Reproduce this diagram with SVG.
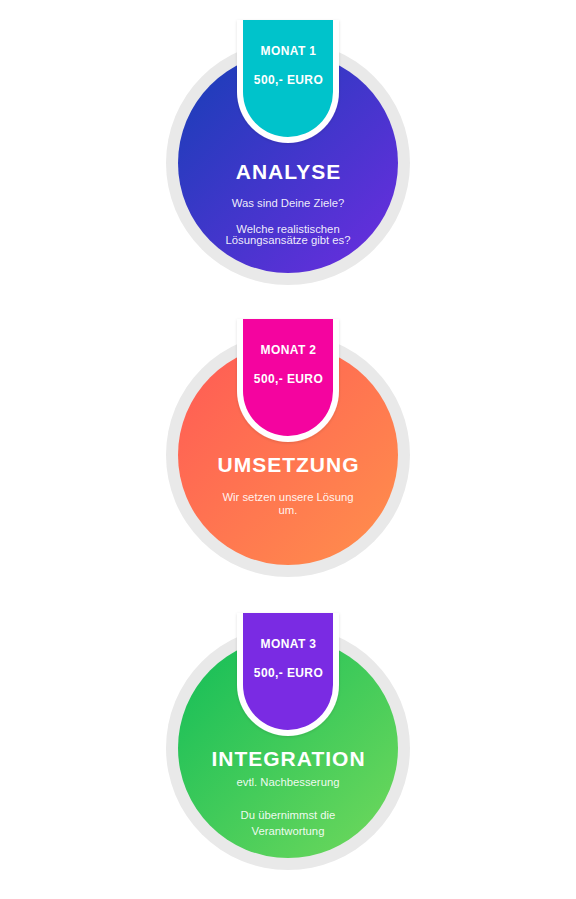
<svg xmlns="http://www.w3.org/2000/svg" width="576" height="899" viewBox="0 0 576 899">
  <defs>
    <linearGradient id="g1" x1="0" y1="0" x2="1" y2="1">
      <stop offset="0" stop-color="#163fb6"/>
      <stop offset="1" stop-color="#6d2de0"/>
    </linearGradient>
    <linearGradient id="g2" x1="0" y1="0" x2="1" y2="1">
      <stop offset="0" stop-color="#ff5a55"/>
      <stop offset="1" stop-color="#ff904c"/>
    </linearGradient>
    <linearGradient id="g3" x1="0" y1="0" x2="1" y2="1">
      <stop offset="0" stop-color="#12bd58"/>
      <stop offset="1" stop-color="#72d95c"/>
    </linearGradient>
    <filter id="sh" x="-20%" y="-20%" width="140%" height="140%">
      <feDropShadow dx="0" dy="1" stdDeviation="1.5" flood-color="#000" flood-opacity="0.12"/>
    </filter>
  </defs>
  <style>
    .ring { fill: #e9e9e9; }
    .tagborder { fill: #ffffff; filter: url(#sh); }
    .tagtxt { font-family: "Liberation Sans", Arial, sans-serif; font-weight: bold; font-size: 12px; fill: #ffffff; text-anchor: middle; letter-spacing: 0.4px; }
    .title { font-family: "Liberation Sans", Arial, sans-serif; font-weight: bold; font-size: 21px; fill: #ffffff; text-anchor: middle; letter-spacing: 1px; }
    .body { font-family: "Liberation Sans", Arial, sans-serif; font-size: 11.3px; fill: #ffffff; fill-opacity: 0.92; text-anchor: middle; }
  </style>

  <g id="node-analyse">
    <circle class="ring" cx="288" cy="163" r="122"/>
    <circle cx="288" cy="163" r="110" fill="url(#g1)"/>
    <path class="tagborder" d="M237,20 H339 V92 A51,51 0 0 1 237,92 Z"/>
    <path d="M243,20 H333 V92 A45,45 0 0 1 243,92 Z" fill="#00c3cb"/>
    <text class="tagtxt" x="288.5" y="55">MONAT 1</text>
    <text class="tagtxt" x="288.5" y="84">500,- EURO</text>
    <text class="title" x="288.5" y="179">ANALYSE</text>
    <text class="body" x="288" y="207">Was sind Deine Ziele?</text>
    <text class="body" x="288" y="232.5">Welche realistischen</text>
    <text class="body" x="288" y="244">Lösungsansätze gibt es?</text>
  </g>

  <g id="node-umsetzung">
    <circle class="ring" cx="288" cy="455" r="122"/>
    <circle cx="288" cy="455" r="110" fill="url(#g2)"/>
    <path class="tagborder" d="M237,319 H339 V391 A51,51 0 0 1 237,391 Z"/>
    <path d="M243,319 H333 V391 A45,45 0 0 1 243,391 Z" fill="#f4049f"/>
    <text class="tagtxt" x="288.5" y="353.5">MONAT 2</text>
    <text class="tagtxt" x="288.5" y="382.5">500,- EURO</text>
    <text class="title" x="288.5" y="471.5">UMSETZUNG</text>
    <text class="body" x="288" y="501">Wir setzen unsere Lösung</text>
    <text class="body" x="288" y="514">um.</text>
  </g>

  <g id="node-integration">
    <circle class="ring" cx="288" cy="748" r="122"/>
    <circle cx="288" cy="748" r="110" fill="url(#g3)"/>
    <path class="tagborder" d="M237,613 H339 V685 A51,51 0 0 1 237,685 Z"/>
    <path d="M243,613 H333 V685 A45,45 0 0 1 243,685 Z" fill="#7a2be3"/>
    <text class="tagtxt" x="288.5" y="647.5">MONAT 3</text>
    <text class="tagtxt" x="288.5" y="676.5">500,- EURO</text>
    <text class="title" x="288.5" y="765.5">INTEGRATION</text>
    <text class="body" x="288" y="786">evtl. Nachbesserung</text>
    <text class="body" x="288" y="819">Du übernimmst die</text>
    <text class="body" x="288" y="834.5">Verantwortung</text>
  </g>

  <g id="connectors"></g>
</svg>
